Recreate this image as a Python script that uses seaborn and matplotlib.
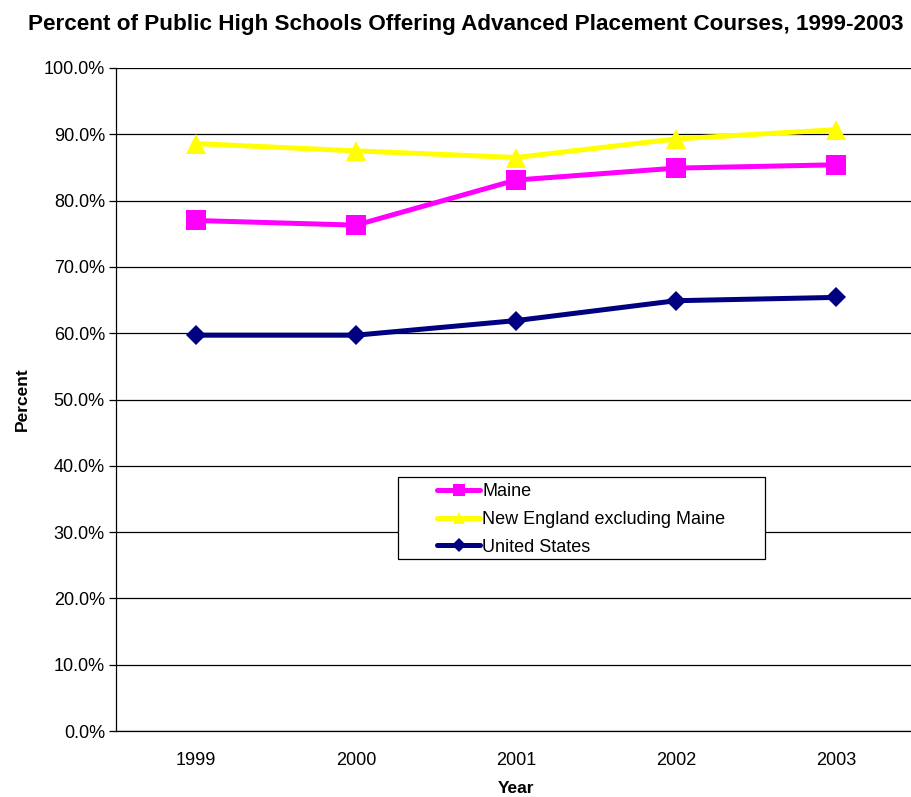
import matplotlib
matplotlib.use("Agg")
import matplotlib.pyplot as plt
from matplotlib.ticker import FuncFormatter, MultipleLocator
from matplotlib.lines import Line2D
from matplotlib.patches import Rectangle
import seaborn as sns
import pandas as pd

years = ["1999", "2000", "2001", "2002", "2003"]
maine = [77.0, 76.3, 83.1, 84.9, 85.4]
new_england = [88.6, 87.5, 86.5, 89.3, 90.7]
united_states = [59.7, 59.7, 61.9, 64.9, 65.4]
series_names = ["Maine", "New England excluding Maine", "United States"]

df = pd.DataFrame({
    "Year": years * 3,
    "Percent": maine + new_england + united_states,
    "Series": [s for s in series_names for _ in years],
})

sns.set_theme(style="white")
plt.rcParams["font.family"] = ["Liberation Sans", "DejaVu Sans"]
plt.rcParams["text.color"] = "#000000"
plt.rcParams["axes.labelcolor"] = "#000000"

fig = plt.figure(figsize=(9.12, 7.97), dpi=100)
ax = fig.add_axes([116 / 912, 1 - 731 / 797, 800 / 912, 663 / 797])

palette = {"Maine": "#FF00FF", "New England excluding Maine": "#FFFF00",
           "United States": "#000080"}
markers = {"Maine": "s", "New England excluding Maine": "^", "United States": "D"}
msizes = {"Maine": 14.4, "New England excluding Maine": 14.4, "United States": 10}

sns.lineplot(data=df, x="Year", y="Percent", hue="Series", style="Series",
             palette=palette, markers=markers, dashes=False, linewidth=3.6,
             markersize=13, markeredgewidth=0, sort=False, ax=ax, legend=False)
for line, name in zip(ax.get_lines(), series_names):
    line.set_markersize(msizes[name])

ax.set_xlim(-0.5, 4.5)
ax.set_ylim(0, 100)
ax.yaxis.set_major_locator(MultipleLocator(10))
ax.yaxis.set_major_formatter(FuncFormatter(lambda v, p: f"{v:.1f}%"))
ax.grid(axis="y", color="#000000", linewidth=0.9)
ax.set_axisbelow(True)
for s in ["top", "right"]:
    ax.spines[s].set_visible(False)
for s in ["left", "bottom"]:
    ax.spines[s].set_color("#000000")
    ax.spines[s].set_linewidth(0.9)

ax.set_xticks(list(range(len(years))))
ax.set_xticklabels(years)
ax.set_xticks([i - 0.5 for i in range(len(years) + 1)], minor=True)
ax.tick_params(axis="x", which="major", length=0, pad=15, labelsize=13, colors="#000000")
ax.tick_params(axis="x", which="minor", length=6, width=0.9, color="#000000", direction="out")
ax.tick_params(axis="y", length=5, width=0.9, color="#000000", direction="out",
               left=True, labelsize=13, colors="#000000", pad=3)

ax.set_xlabel("Year", fontsize=12.5, fontweight="bold", labelpad=9)
ax.set_ylabel("Percent", fontsize=12.5, fontweight="bold", labelpad=10)
fig.suptitle("Percent of Public High Schools Offering Advanced Placement Courses, 1999-2003",
             x=0.511, y=0.982, fontsize=16.2, fontweight="bold")

# Legend box drawn as a separate frame with the entries placed inside it
fig.patches.append(Rectangle((398 / 912, 1 - 559 / 797), (765 - 398) / 912, 82 / 797,
                             transform=fig.transFigure, facecolor="white",
                             edgecolor="#000000", linewidth=0.9, zorder=3))
handles = [Line2D([], [], color=palette[n], marker=markers[n], linewidth=3.6,
                  markersize=9 if n != "United States" else 7, markeredgewidth=0)
           for n in series_names]
leg = fig.legend(handles, series_names, loc="upper left",
                 bbox_to_anchor=(437 / 912, 1 - 483 / 797), fontsize=13,
                 frameon=False, handlelength=2.4, handletextpad=0.1,
                 borderpad=0, labelspacing=0.6, borderaxespad=0)
leg.set_zorder(4)

fig.savefig("out.png", dpi=100, facecolor="white")
